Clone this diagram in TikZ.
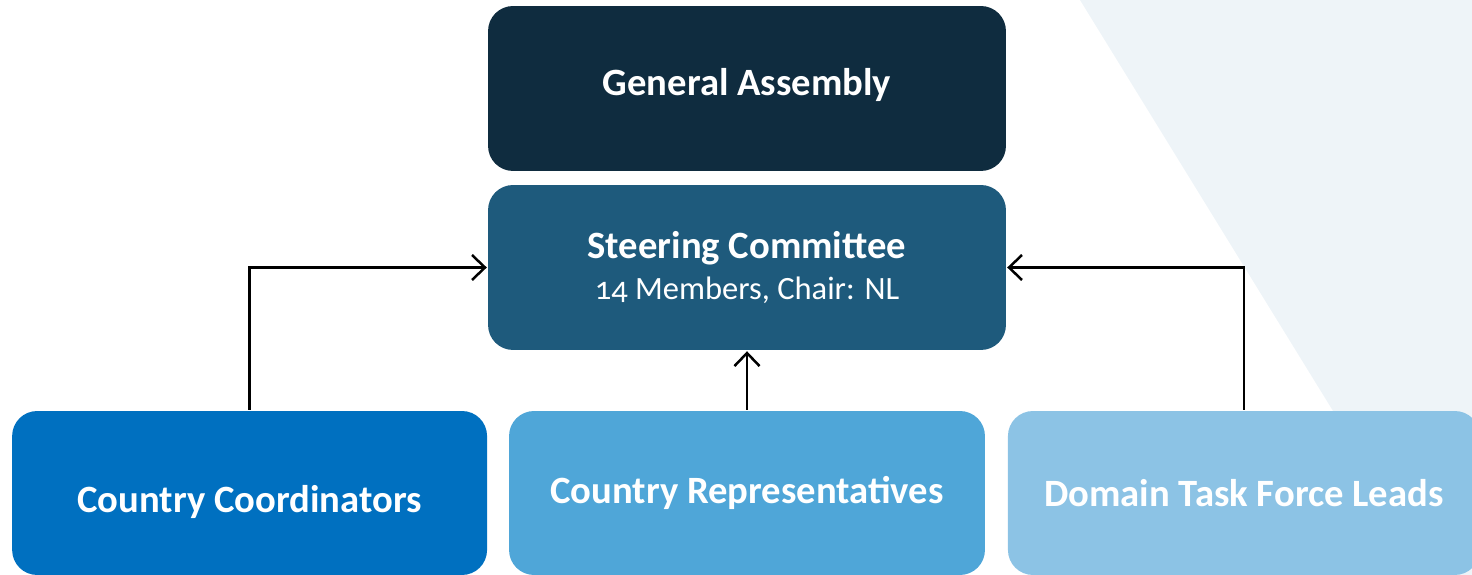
\documentclass[tikz,border=0pt]{standalone}
\usepackage{fontspec}
\setmainfont{Carlito}[Numbers=OldStyle]
\usetikzlibrary{arrows.meta}
\usetikzlibrary{positioning}

\definecolor{assembly}{HTML}{0F2C3F}
\definecolor{steering}{HTML}{1E5A7C}
\definecolor{coord}{HTML}{0070C0}
\definecolor{repr}{HTML}{4FA6D8}
\definecolor{leads}{HTML}{8CC3E5}
\definecolor{backdrop}{HTML}{EEF4F8}

\tikzset{
  orgbox/.style={rounded corners=0.5cm, text=white, align=center,
    inner sep=0pt, minimum height=3.3cm},
  wide/.style={minimum width=10.36cm},
  low/.style={minimum height=3.28cm},
  title/.style={font=\bfseries\fontsize{22}{26}\selectfont}
}

\begin{document}
\begin{tikzpicture}[x=0.02cm, y=0.02cm,
    >={Straight Barb[length=0.26cm,width=0.5cm]},
    line width=0.05cm,
    node distance=9.95cm,
    on grid]

  \useasboundingbox (0,0) rectangle (1472,575);
  \fill[backdrop] (1080,575) -- (1472,575) -- (1472,0) -- (1434,0) -- cycle;

  \node[orgbox,wide,title,fill=assembly,text height=0.45cm,text depth=0.15cm]
    (Assembly) at (747,486.5) {General Assembly};
  \node[orgbox,wide,fill=steering]
    (Steering) at (747,307.5)
    {{\bfseries\fontsize{22}{26}\selectfont Steering Committee}\\[6pt]
     {\fontsize{18.5}{21}\selectfont 14 Members, Chair: NL}};

  \node[orgbox,low,title,minimum width=9.52cm,fill=repr]
    (Representatives) at (747,82) {Country Representatives};
  \node[orgbox,low,title,minimum width=9.5cm,fill=coord,
    text height=0.95cm,text depth=0.15cm]
    (Coordinators) [left=of Representatives] {Country Coordinators};
  \node[orgbox,low,title,minimum width=9.44cm,fill=leads]
    (Leads) [right=9.94cm of Representatives] {Domain Task Force Leads};

  \draw[->] (Coordinators.north) |- (Steering.west);
  \draw[->] (Representatives.north) -- (Steering.south);
  \draw[->] (Leads.north) |- (Steering.east);

\end{tikzpicture}
\end{document}
